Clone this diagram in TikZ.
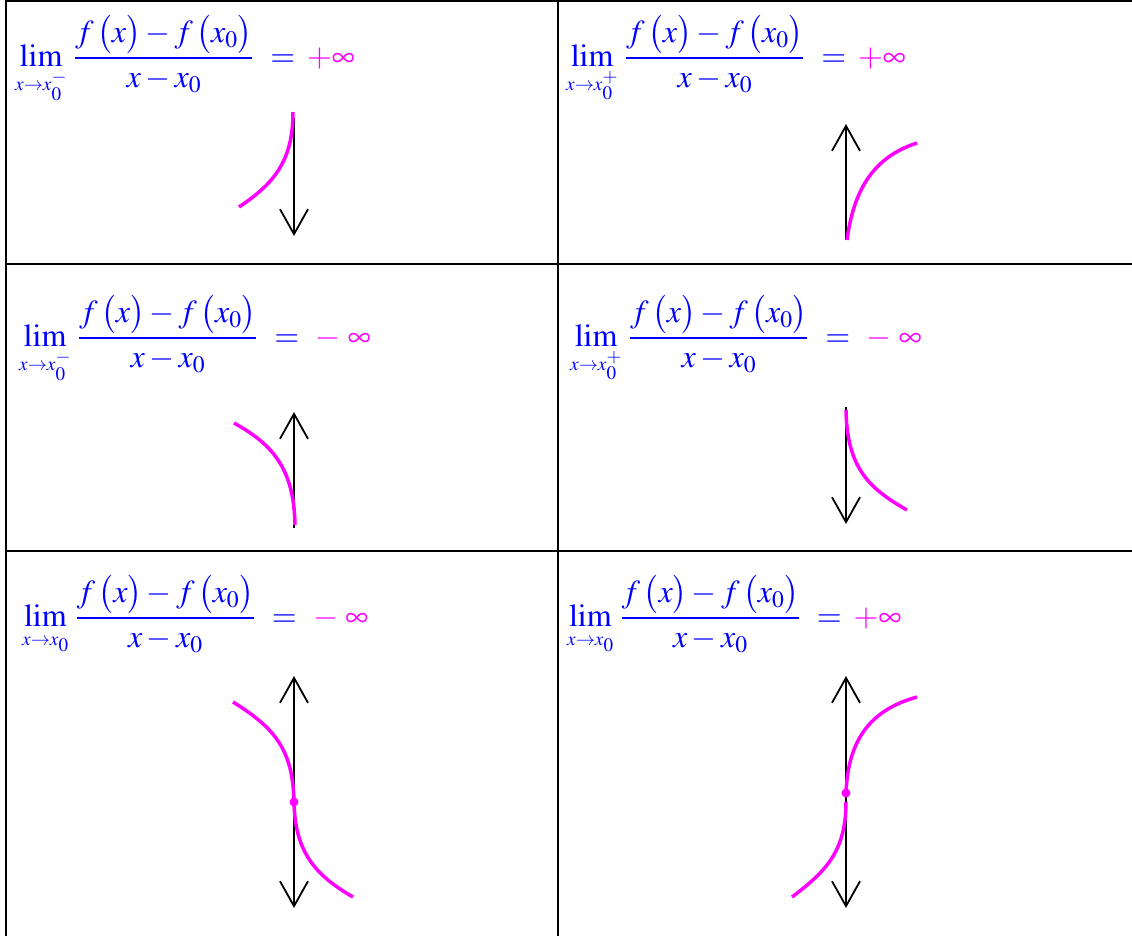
\documentclass[tikz,border=0pt]{standalone}
\usepackage{mathptmx}
\usetikzlibrary{arrows.meta}
\definecolor{fblue}{RGB}{0,0,255}
\definecolor{fmag}{RGB}{255,0,255}
\tikzset{
  gridline/.style={line width=2pt,line cap=rect},
  curve/.style={fmag,line width=3.5pt},
  axisline/.style={black,line width=1.8pt},
  barb/.tip={Straight Barb[length=25pt,width=28pt,line width=1.8pt]},
  formula/.style={anchor=base west,inner sep=0pt,text=fblue,font=\fontsize{32}{38}\selectfont},
}
\newcommand{\DQ}{\frac{f\,\bigl(x\bigr)-f\,\bigl(x_0\bigr)}{x-x_0}}
\newcommand{\LimOp}{\mathop{\mathrm{lim}}\limits}
\newcommand{\LimF}[2]{$\displaystyle\LimOp_{\scriptscriptstyle #1}\,\DQ\hspace{0.3em}=\hspace{0.15em}{\color{fmag}#2}$}
\newcommand{\MinusInf}{\mathord{-}\;\infty}
\begin{document}
\begin{tikzpicture}[x=1pt,y=-1pt]
\useasboundingbox (0,0) rectangle (1132,935);
% table
\draw[gridline] (6,1) -- (1132,1);
\draw[gridline] (6,1) -- (6,935);
\draw[gridline] (558,1) -- (558,935);
\draw[gridline] (6,264) -- (1132,264);
\draw[gridline] (6,551) -- (1132,551);
% formulas
\node[formula] (f1) at (15,66) {\LimF{x\to x_0^-}{+\infty}};
\node[formula] (f2) at (566,66) {\LimF{x\to x_0^+}{+\infty}};
\node[formula] (f3) at (19,346) {\LimF{x\to x_0^-}{\hspace{0.15em}\MinusInf}};
\node[formula] (f4) at (570,346) {\LimF{x\to x_0^+}{\hspace{0.15em}\MinusInf}};
\node[formula] (f5) at (22,626) {\LimF{x\to x_0}{\hspace{0.15em}\MinusInf}};
\node[formula] (f6) at (567,626) {\LimF{x\to x_0}{+\infty}};
% cell 1
\coordinate (a1t) at (294,118); \coordinate (a1b) at (294,236);
\draw[axisline,-{barb}] (a1t) -- (a1b);
\draw[curve] (239,207) .. controls (275,183) and (293,160) .. (293,112);
% cell 2
\coordinate (a2b) at (846,240); \coordinate (a2t) at (846,124);
\draw[axisline,-{barb}] (a2b) -- (a2t);
\draw[curve] (847,240) .. controls (853,195) and (870,158) .. (917,143);
% cell 3
\coordinate (a3b) at (294,528); \coordinate (a3t) at (294,412);
\draw[axisline,-{barb}] (a3b) -- (a3t);
\draw[curve] (234,423) .. controls (272,444) and (294,468) .. (295,525);
% cell 4
\coordinate (a4t) at (846,407); \coordinate (a4b) at (846,524);
\draw[axisline,-{barb}] (a4t) -- (a4b);
\draw[curve] (846,410) .. controls (847,467) and (868,488) .. (907,510);
% cell 5
\coordinate (a5t) at (294,676); \coordinate (a5b) at (294,908);
\draw[axisline,{barb}-{barb}] (a5t) -- (a5b);
\draw[curve] (233,702) .. controls (275,728) and (293,750) .. (294,802);
\draw[curve] (294,802) .. controls (295,852) and (315,875) .. (353,897);
\fill[fmag] (294,802) circle (4.5);
% cell 6
\coordinate (a6t) at (846,676); \coordinate (a6b) at (846,908);
\draw[axisline,{barb}-{barb}] (a6t) -- (a6b);
\draw[curve] (846,793) .. controls (848,740) and (870,710) .. (917,697);
\draw[curve] (846,802) .. controls (846,852) and (825,872) .. (792,897);
\fill[fmag] (846,793) circle (4.5);
\end{tikzpicture}
\end{document}
